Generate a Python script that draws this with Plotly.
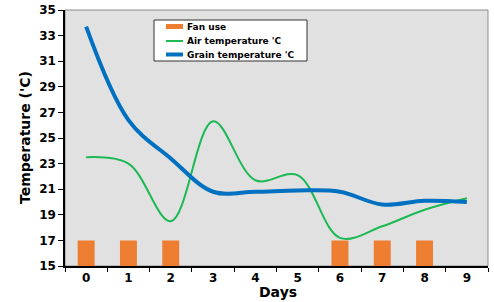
import plotly.graph_objects as go

days = ["0", "1", "2", "3", "4", "5", "6", "7", "8", "9"]
fan_use = [17, 17, 17, 0, 0, 0, 17, 17, 17, 0]
air_temp = [23.5, 23.0, 18.5, 26.3, 21.7, 22.1, 17.2, 18.1, 19.4, 20.3]
grain_temp = [33.7, 26.4, 23.4, 20.8, 20.8, 20.9, 20.8, 19.8, 20.1, 20.0]
y_ticks = list(range(15, 36, 2))
legend_names = ["Fan use", "Air temperature 'C", "Grain temperature 'C"]

FONT = "DejaVu Sans"
ORANGE, GREEN, BLUE = "#ED7D31", "#1DB954", "#0070C0"

# plot area in pixels
W, H = 494, 302
L, R, T, B = 65, 6, 10, 36
PW, PH = W - L - R, H - T - B


def px(x):
    return (x - L) / PW


def py(y):
    return (H - B - y) / PH


fig = go.Figure()
fig.add_trace(go.Bar(x=days, y=fan_use, name=legend_names[0], marker_color=ORANGE,
                     width=0.4, marker_line_width=0))
fig.add_trace(go.Scatter(x=days, y=air_temp, name=legend_names[1], mode="lines",
                         line=dict(color=GREEN, width=2, shape="spline", smoothing=1)))
fig.add_trace(go.Scatter(x=days, y=grain_temp, name=legend_names[2], mode="lines",
                         line=dict(color=BLUE, width=4, shape="spline", smoothing=1)))

shapes = [
    dict(type="rect", xref="paper", yref="paper", x0=0, x1=1, y0=0, y1=1,
         line=dict(color="#8c8c8c", width=1), layer="below"),
    # legend box
    dict(type="rect", xref="paper", yref="paper", x0=px(154), x1=px(307), y0=py(61), y1=py(20),
         line=dict(color="#333333", width=1), fillcolor="white", layer="above"),
    dict(type="rect", xref="paper", yref="paper", x0=px(166), x1=px(183), y0=py(29), y1=py(24),
         line=dict(width=0), fillcolor=ORANGE, layer="above"),
    dict(type="line", xref="paper", yref="paper", x0=px(166), x1=px(183), y0=py(41), y1=py(41),
         line=dict(color=GREEN, width=2), layer="above"),
    dict(type="line", xref="paper", yref="paper", x0=px(166), x1=px(183), y0=py(54.5), y1=py(54.5),
         line=dict(color=BLUE, width=4), layer="above"),
]
annotations = []
for name, yy in zip(legend_names, [26.5, 41, 54.5]):
    annotations.append(dict(text=name, xref="paper", yref="paper", x=px(185), y=py(yy),
                            xanchor="left", yanchor="middle", showarrow=False,
                            font=dict(family=FONT, size=9, weight="bold", color="black")))
annotations.append(dict(text="Days", xref="paper", yref="paper", x=px(278), y=py(292),
                        xanchor="center", yanchor="middle", showarrow=False,
                        font=dict(family=FONT, size=14, weight="bold", color="black")))
annotations.append(dict(text="Temperature ('C)", xref="paper", yref="paper", x=px(25), y=py(138),
                        xanchor="center", yanchor="middle", showarrow=False, textangle=-90,
                        font=dict(family=FONT, size=14, weight="bold", color="black")))

fig.update_layout(
    width=W, height=H,
    margin=dict(l=L, r=R, t=T, b=B, autoexpand=False),
    paper_bgcolor="white",
    plot_bgcolor="#e1e1e1",
    font=dict(family=FONT, color="black"),
    showlegend=False,
    shapes=shapes,
    annotations=annotations,
    xaxis=dict(type="category", tickson="boundaries", ticks="outside", ticklen=4,
               showline=True, linecolor="black", linewidth=1.5, tickcolor="black",
               showgrid=False, zeroline=False, automargin=False, range=[-0.5, 9.5],
               tickfont=dict(family=FONT, size=12, weight="bold")),
    xaxis2=dict(type="category", categoryarray=days, categoryorder="array",
                range=[-0.5, 9.5], overlaying="x", side="bottom", anchor="y",
                tickson="boundaries", ticks="inside", ticklen=4, tickcolor="black",
                showticklabels=False, showline=False, showgrid=False, zeroline=False,
                tickvals=days),
    yaxis=dict(range=[15, 35], tickvals=y_ticks, ticks="outside", ticklen=5,
               showline=True, linecolor="black", linewidth=1.5, tickcolor="black",
               showgrid=False, zeroline=False, automargin=False,
               tickfont=dict(family=FONT, size=12, weight="bold")),
)

fig.write_html("out.html", config={"displayModeBar": False},
               post_script="document.body.style.margin='0';")
